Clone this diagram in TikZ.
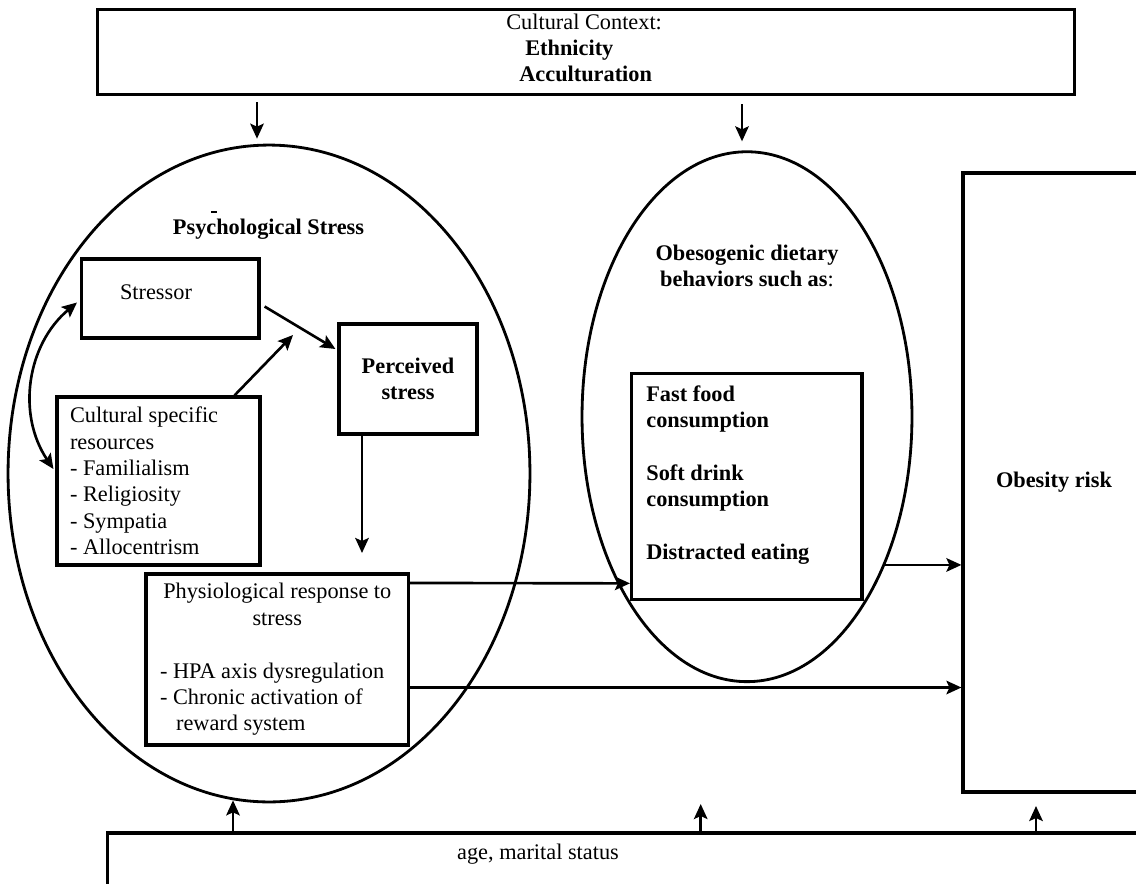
\documentclass[tikz,border=0pt]{standalone}
\usepackage{fontspec}
\setmainfont{Liberation Serif}
\usetikzlibrary{shapes.geometric}
\usetikzlibrary{arrows.meta}
\usetikzlibrary{calc}
\tikzset{
    every node/.style={
        inner sep=0pt,
        font=\fontsize{12.7}{15}\selectfont},
    boldtxt/.style={
        font=\fontsize{12.7}{15}\selectfont\bfseries},
    box/.style={
        draw,
        rectangle,
        line width=1.8pt},
    oval/.style={
        draw,
        ellipse,
        line width=1.6pt},
    arr/.style={
        draw,
        line width=1.5pt,
        -{Stealth[length=0.3cm,width=0.27cm,inset=0.06cm]}},
    dblarr/.style={
        draw,
        line width=1.5pt,
        {Stealth[length=0.3cm,width=0.27cm,inset=0.06cm]}-{Stealth[length=0.3cm,width=0.27cm,inset=0.06cm]}}}

\begin{document}
\begin{tikzpicture}[x=0.02cm,y=-0.02cm]
        \useasboundingbox (0,0) rectangle (1136,883);
        \clip (0,0) rectangle (1136,883);

        % outer frame
        \node[box,minimum width=19.56cm,minimum height=1.7cm] (ctx) at (586,52) {};
        \node[anchor=west,align=left] (ctxtext) at (506,48) {Cultural Context:\\\hspace*{0.38cm}\textbf{Ethnicity}\\\hspace*{0.26cm}\textbf{Acculturation}};

        \node[oval,minimum width=10.44cm,minimum height=13.14cm] (psych) at (269,473.5) {};
        \node[oval,minimum width=6.6cm,minimum height=10.6cm] (diet) at (747,416.7) {};
        \node[box,boldtxt,minimum width=3.64cm,minimum height=12.38cm] (obesity) at (1054,482.5) {Obesity risk};
        \node[box,minimum width=20.86cm,minimum height=1.34cm] (agebox) at (628.5,866.5) {};
        \node (agetext) at (538,854) {age, marital status};

        % psychological stress
        \node[boldtxt] (psychtitle) at (268.5,229) {Psychological Stress};
        \draw[line width=0.8pt] (211,212) -- (217,212);
        \node[box,minimum width=3.55cm,minimum height=1.58cm] (stressor) at (170.3,298.5) {};
        \node (stressortext) at (156,292) {Stressor};
        \node[box,boldtxt,minimum width=2.76cm,minimum height=2.2cm,align=center] (perceived) at (408,379) {Perceived\\stress};
        \node[box,minimum width=4.06cm,minimum height=3.36cm,text width=3.54cm,inner xsep=0.26cm,align=flush left] (cultural) at (158.5,481) {Cultural specific\\resources\\- Familialism\\- Religiosity\\- Sympatia\\- Allocentrism};
        \node[box,minimum width=5.25cm,minimum height=3.42cm,text width=4.69cm,inner xsep=0.28cm,align=flush left] (physio) at (277.3,659.5) {\hfill Physiological response to\hfill\mbox{}\\\hfill stress\hfill\mbox{}\\\mbox{}\\- HPA axis dysregulation\\- Chronic activation of\\\hspace*{0.32cm}reward system};

        % dietary behaviors
        \node[boldtxt,align=center] (diettitle) at (747,266) {Obesogenic dietary\\behaviors such as{\mdseries:}};
        \node[box,minimum width=4.61cm,minimum height=4.52cm] (fastfood) at (746.75,486.3) {};
        \node[boldtxt,anchor=north west,align=left] (fastfoodtext) at (646,385) {Fast food\\consumption\\\mbox{}\\Soft drink\\consumption\\\mbox{}\\Distracted eating};

        \coordinate (mod) at (293,335);
        \coordinate (psend) at (362,553);
        \coordinate (upA) at (700.7,804);
        \coordinate (upB) at (1036,806);

        \draw[arr] ($(ctx.south -| psych.north)+(-12,6)$) -- ($(psych.north)+(-12,-5)$);
        \draw[arr] ($(ctx.south -| diet.north)+(-5,8)$) -- ($(diet.north)+(-5,-9)$);

        \draw[dblarr] ($(stressor.west)+(-3,4)$) to[bend right=42] ($(cultural.west)+(-2,-12)$);
        \draw[arr] ($(stressor.east)+(4,8)$) -- ($(perceived.west)+(-2,-30)$);
        \draw[arr] ($(cultural.north)+(76,0)$) -- (mod);
        \draw[arr] (perceived.south -| psend) -- (psend);

        \draw[arr] ($(physio.north east)+(0,10.5)$) -- ($(fastfood.south west)+(0,-17.5)$);
        \draw[arr] ($(physio.east)+(0,28)$) coordinate (hpa) -- (hpa -| obesity.west);
        \draw[arr] (diet.-47) -- (diet.-47 -| obesity.west);

        \path ($(psych.south)+(-36,-3)$) coordinate (upP);
        \draw[arr] (agebox.north -| upP) -- (upP);
        \draw[arr] (agebox.north -| upA) -- (upA);
        \draw[arr] (agebox.north -| upB) -- (upB);
    \end{tikzpicture}
\end{document}
